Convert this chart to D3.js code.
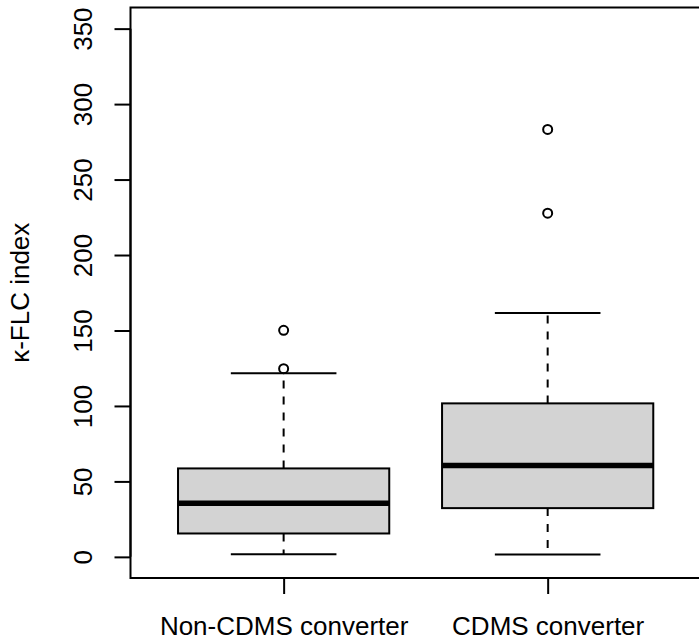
<!DOCTYPE html>
<html>
<head>
<meta charset="utf-8">
<script src="https://cdn.jsdelivr.net/npm/d3@7"></script>
<style>
  body { margin: 0; background: #fff; }
  text { font-family: "Liberation Sans", Arial, sans-serif; fill: #000; }
</style>
</head>
<body>
<div id="chart"></div>
<script>
// boxplot stats
const groups = ["Non-CDMS converter", "CDMS converter"];
const lowerWhisker = [1.8, 1.6];
const q1 = [15.5, 32.3];
const median = [35.6, 60.6];
const q3 = [58.6, 101.7];
const upperWhisker = [121.6, 161.6];
const outliers = [[150.1, 124.7], [283.2, 227.7]];
const yTicks = [0, 50, 100, 150, 200, 250, 300, 350];

const width = 699, height = 644;
const plot = { left: 130.5, right: 700.8, top: 7.5, bottom: 578 };
const fontSize = 26;

const svg = d3.select('#chart')
    .append('svg')
    .attr('width', width)
    .attr('height', height);

// R style: 4% padding on each side
const x = d3.scaleLinear().domain([0.42, 2.58]).range([plot.left, plot.right]);
const y = d3.scaleLinear().domain([-14, 364]).range([plot.bottom, plot.top]);

const boxHalf = 0.4, capHalf = 0.2;

const g = svg.append('g');

groups.forEach((name, i) => {
    const cx = x(i + 1);
    const bg = g.append('g');

    // whiskers (dashed)
    bg.append('line')
        .attr('x1', cx).attr('x2', cx)
        .attr('y1', y(q3[i])).attr('y2', y(upperWhisker[i]))
        .attr('stroke', '#000').attr('stroke-width', 2)
        .attr('stroke-dasharray', '8,8');
    bg.append('line')
        .attr('x1', cx).attr('x2', cx)
        .attr('y1', y(q1[i])).attr('y2', y(lowerWhisker[i]))
        .attr('stroke', '#000').attr('stroke-width', 2)
        .attr('stroke-dasharray', '8,8');

    // caps
    [lowerWhisker[i], upperWhisker[i]].forEach(v => {
        bg.append('line')
            .attr('x1', x(i + 1 - capHalf)).attr('x2', x(i + 1 + capHalf))
            .attr('y1', y(v)).attr('y2', y(v))
            .attr('stroke', '#000').attr('stroke-width', 2);
    });

    // box
    bg.append('rect')
        .attr('x', x(i + 1 - boxHalf))
        .attr('y', y(q3[i]))
        .attr('width', x(i + 1 + boxHalf) - x(i + 1 - boxHalf))
        .attr('height', y(q1[i]) - y(q3[i]))
        .attr('fill', '#d3d3d3')
        .attr('stroke', '#000').attr('stroke-width', 2);

    // median
    bg.append('line')
        .attr('x1', x(i + 1 - boxHalf)).attr('x2', x(i + 1 + boxHalf))
        .attr('y1', y(median[i])).attr('y2', y(median[i]))
        .attr('stroke', '#000').attr('stroke-width', 5.5);

    // outliers
    bg.selectAll('circle')
        .data(outliers[i])
        .enter()
        .append('circle')
        .attr('cx', cx)
        .attr('cy', d => y(d))
        .attr('r', 4.5)
        .attr('fill', 'none')
        .attr('stroke', '#000').attr('stroke-width', 2);
});

// frame
svg.append('rect')
    .attr('x', plot.left).attr('y', plot.top)
    .attr('width', plot.right - plot.left)
    .attr('height', plot.bottom - plot.top)
    .attr('fill', 'none')
    .attr('stroke', '#000').attr('stroke-width', 2);

// y axis
const yAxis = svg.append('g')
    .attr('transform', `translate(${plot.left},0)`)
    .call(d3.axisLeft(y).tickValues(yTicks).tickSize(16).tickSizeOuter(0));
yAxis.select('.domain').remove();
yAxis.selectAll('line').attr('stroke-width', 2);
yAxis.append('line')
    .attr('x1', 0).attr('x2', 0)
    .attr('y1', y(0)).attr('y2', y(350))
    .attr('stroke', '#000').attr('stroke-width', 2);
yAxis.selectAll('text')
    .attr('x', null).attr('dy', null)
    .attr('transform', 'translate(-38.5,0) rotate(-90)')
    .attr('text-anchor', 'middle')
    .style('font-size', fontSize + 'px')
    .style('font-family', '"Liberation Sans", Arial, sans-serif');

// x axis
const xAxis = svg.append('g')
    .attr('transform', `translate(0,${plot.bottom})`)
    .call(d3.axisBottom(x).tickValues([1, 2]).tickFormat((d, i) => groups[i]).tickSize(16).tickSizeOuter(0));
xAxis.select('.domain').remove();
xAxis.selectAll('line').attr('stroke-width', 2);
xAxis.append('line')
    .attr('x1', x(1)).attr('x2', x(2))
    .attr('y1', 0).attr('y2', 0)
    .attr('stroke', '#000').attr('stroke-width', 2);
xAxis.selectAll('text')
    .attr('y', 57).attr('dy', null)
    .style('font-size', fontSize + 'px')
    .style('font-family', '"Liberation Sans", Arial, sans-serif');

// y label
svg.append('text')
    .attr('transform', `translate(28.5,${(plot.top + plot.bottom) / 2}) rotate(-90)`)
    .attr('text-anchor', 'middle')
    .style('font-size', fontSize + 'px')
    .text('κ-FLC index');
</script>
</body>
</html>
